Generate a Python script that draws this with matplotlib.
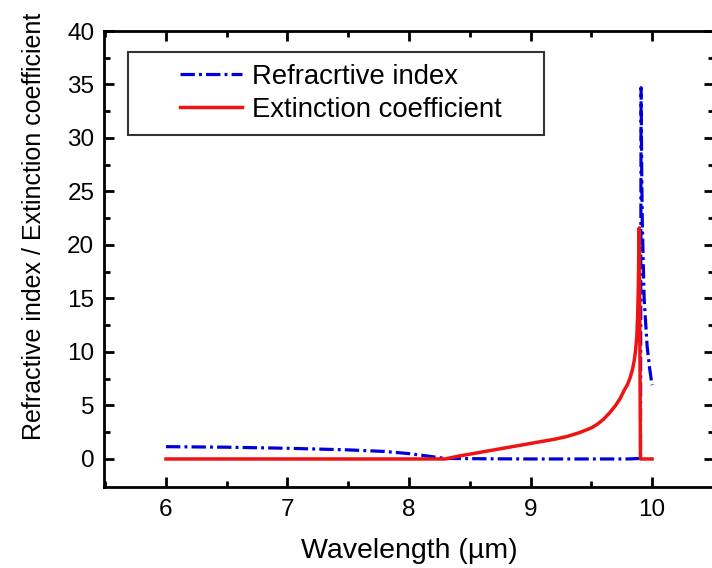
import matplotlib
matplotlib.use("Agg")
import matplotlib.pyplot as plt
from matplotlib.lines import Line2D
from matplotlib.legend_handler import HandlerLine2D

plt.rcParams['font.family'] = ['Liberation Sans', 'DejaVu Sans']

# Data
wl_n = [6.0, 6.5, 7.0, 7.5, 7.8, 8.0, 8.1, 8.2, 8.3, 8.6, 9.0, 9.5, 9.8, 9.905,
        9.91, 9.915, 9.92, 9.935, 9.96, 9.98, 10.0]
n_vals = [1.15, 1.1, 1.0, 0.85, 0.7, 0.5, 0.35, 0.2, 0.05, 0.02, 0.0, 0.0, 0.0, 0.05,
          34.7, 27.0, 22.0, 15.0, 10.5, 8.5, 6.9]

wl_k = [6.0, 8.3, 8.4, 8.5, 8.6, 8.7, 8.8, 8.9, 9.0, 9.1, 9.2, 9.3, 9.4, 9.5,
        9.55, 9.6, 9.65, 9.7, 9.74, 9.77, 9.8, 9.82, 9.84, 9.855, 9.865, 9.875,
        9.882, 9.887, 9.891, 9.895, 9.905, 10.0]
k_vals = [0.0, 0.0, 0.25, 0.45, 0.65, 0.85, 1.05, 1.25, 1.45, 1.65, 1.85, 2.1,
          2.45, 2.9, 3.25, 3.7, 4.3, 5.0, 5.7, 6.4, 7.0, 7.6, 8.4, 9.3, 10.2,
          11.5, 13.5, 16.0, 19.0, 21.6, 0.0, 0.0]

x_ticks = [6, 7, 8, 9, 10]
y_ticks = [0, 5, 10, 15, 20, 25, 30, 35, 40]
label_n = "Refracrtive index"
label_k = "Extinction coefficient"
x_label = "Wavelength (\u00b5m)"
y_label = "Refractive index / Extinction coefficient"


class OffsetLineHandler(HandlerLine2D):
    def __init__(self, frac, **kw):
        super().__init__(**kw)
        self.frac = frac

    def create_artists(self, legend, orig_handle, xdescent, ydescent, width,
                       height, fontsize, trans):
        x0 = -xdescent + width * (1 - self.frac)
        x1 = -xdescent + width
        y = height / 2 - ydescent
        line = Line2D([x0, x1], [y, y])
        self.update_prop(line, orig_handle, legend)
        line.set_transform(trans)
        return [line]


W, H = 712, 568
fig = plt.figure(figsize=(W / 100, H / 100), dpi=100)
ax = fig.add_axes([104 / W, (H - 487) / H, (714 - 104) / W, (487 - 31) / H])

ax.plot(wl_n, n_vals, color='#0000dd', lw=2.3,
        linestyle=(0, (4.5, 1.3, 0.9, 1.3)), label=label_n)
ax.plot(wl_k, k_vals, color='#ee1414', lw=2.5, label=label_k)

ax.set_xlim(5.49, 10.51)
ax.set_ylim(-2.62, 40)
ax.set_xticks(x_ticks)
ax.set_yticks(y_ticks)
ax.set_xticks([5.5, 6.5, 7.5, 8.5, 9.5, 10.5], minor=True)
ax.set_yticks([2.5 + 5 * i for i in range(8)], minor=True)

for s in ax.spines.values():
    s.set_linewidth(2.0)
ax.tick_params(which='both', direction='in', top=True, right=True, width=2.0,
               labelsize=17.5)
ax.tick_params(which='major', length=7)
ax.tick_params(which='minor', length=4)
ax.tick_params(axis='x', pad=9)
ax.tick_params(axis='y', pad=7)

ax.set_xlabel(x_label, fontsize=20.5, labelpad=12)
ax.set_ylabel(y_label, fontsize=18, labelpad=15, y=0.572)

fs_leg = 19.8
axw = 610.0
axh = 456.0
leg = ax.legend(
    handler_map={ax.lines[0]: OffsetLineHandler(0.61),
                 ax.lines[1]: OffsetLineHandler(0.61)},
    loc='upper left', mode='expand',
    bbox_to_anchor=((128 - 104) / axw, (487 - 52) / axh, (544 - 128) / axw, 0),
    borderaxespad=0, borderpad=0.44, handlelength=3.71, handletextpad=0.36,
    labelspacing=0.25, fontsize=fs_leg, fancybox=False, framealpha=1,
    edgecolor='#333333')
leg.get_frame().set_linewidth(1.5)

fig.savefig("out.png", dpi=100)
